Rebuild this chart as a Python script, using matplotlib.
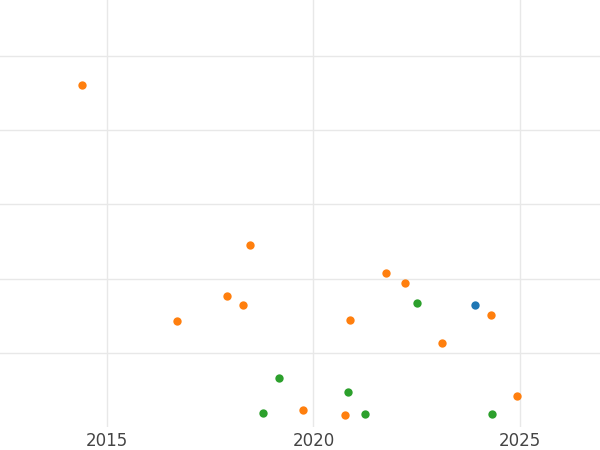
import matplotlib
matplotlib.use("Agg")
import matplotlib.pyplot as plt

# series (year, value)
orange_x = [2014.39, 2016.69, 2017.91, 2018.29, 2018.46, 2019.74, 2020.76, 2020.88,
            2021.76, 2022.22, 2023.11, 2024.30, 2024.93]
orange_y = [4.61, 1.43, 1.77, 1.64, 2.45, 0.23, 0.16, 1.44, 2.08, 1.94, 1.13, 1.51, 0.42]
green_x = [2018.78, 2019.16, 2020.84, 2021.25, 2022.51, 2024.32]
green_y = [0.19, 0.66, 0.47, 0.17, 1.67, 0.18]
blue_x = [2023.91]
blue_y = [1.65]
xticks = [2015, 2020, 2025]

fig = plt.figure(figsize=(6, 4.5), dpi=100)
ax = fig.add_axes([0, 0.051, 1, 0.949])

ax.scatter(orange_x, orange_y, s=36, color="#ff7f0e", zorder=3, linewidths=0)
ax.scatter(green_x, green_y, s=36, color="#2ca02c", zorder=3, linewidths=0)
ax.scatter(blue_x, blue_y, s=36, color="#1f77b4", zorder=3, linewidths=0)

ax.set_xlim(2012.41, 2026.94)
ax.set_ylim(0, 5.75)
ax.set_xticks(xticks)
ax.set_yticks([1, 2, 3, 4, 5])
ax.set_yticklabels([])
ax.tick_params(axis="both", length=0, labelsize=12, colors="#444444")
ax.grid(color="#e8e8e8", linewidth=1)
ax.set_axisbelow(True)
for s in ax.spines.values():
    s.set_visible(False)

fig.savefig("out.png")
